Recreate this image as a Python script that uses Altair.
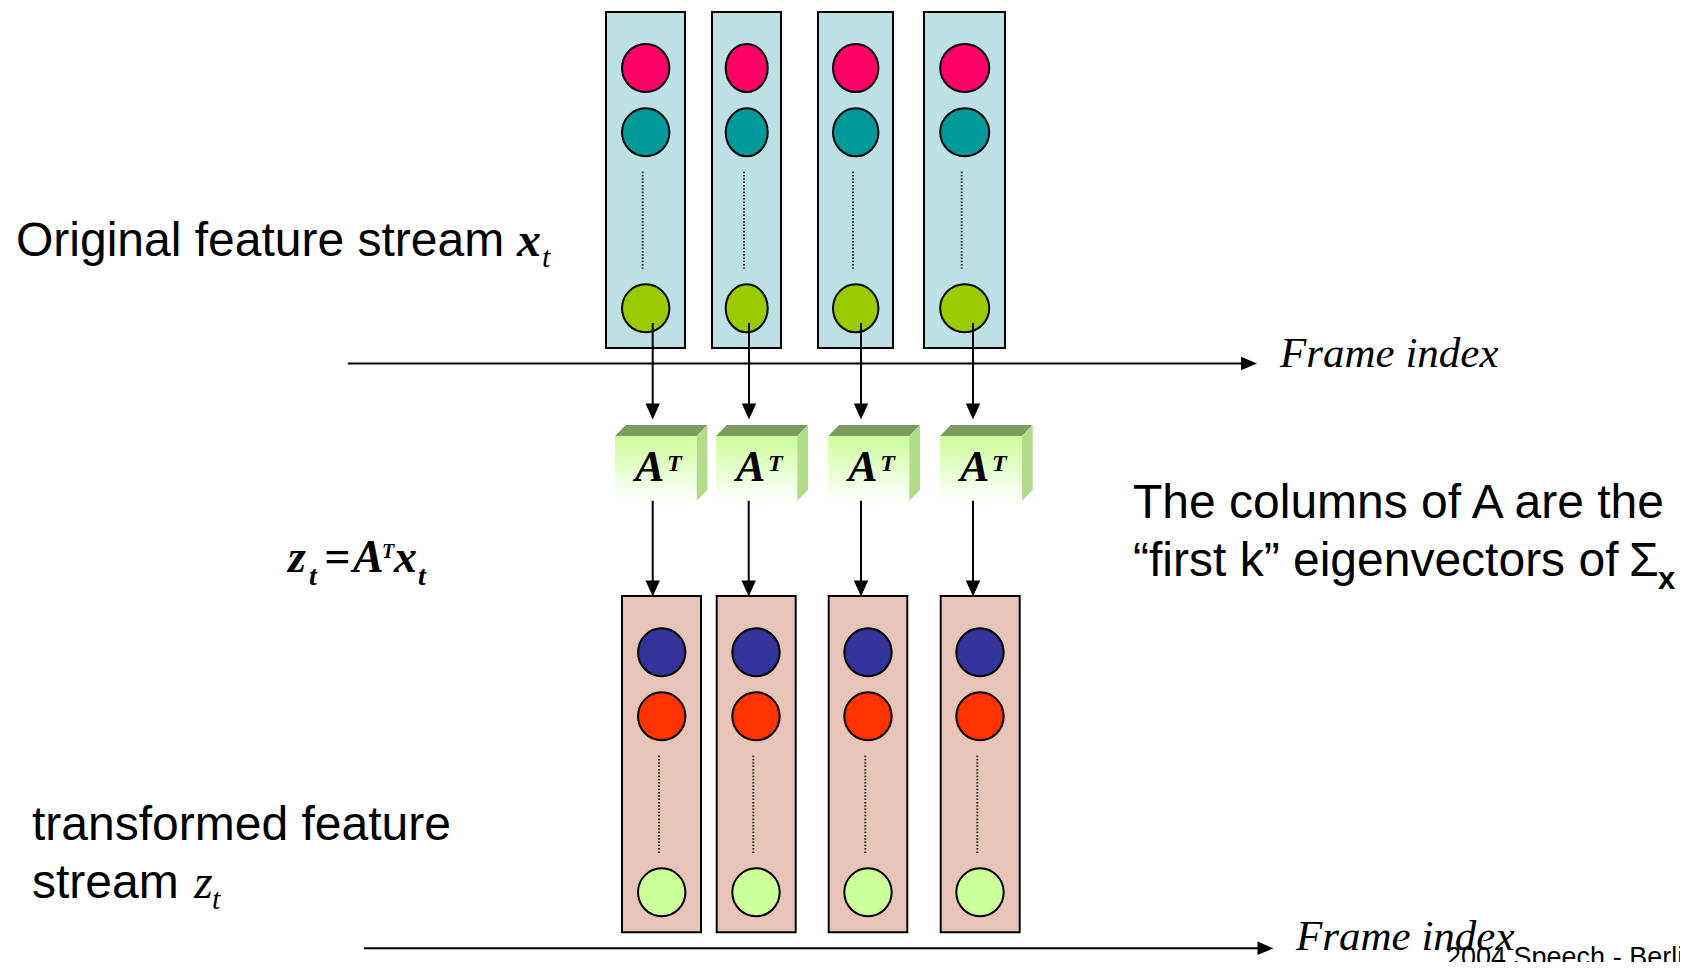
import altair as alt
import pandas as pd

# ---------------- canvas (page pixel coordinates) ----------------
W, H = 1672, 954
XS = alt.Scale(domain=[8, 8 + W], nice=False, zero=False)
YS = alt.Scale(domain=[8, 8 + H], nice=False, zero=False, reverse=True)

# ---------------- data ----------------
# input frames x_t
top_box_x0 = [606, 712, 818, 924]
top_box_x1 = [685, 781, 893, 1005]
top_box_y0, top_box_y1 = 12, 348
top_circle_cx = [645.7, 746.7, 855.7, 964.7]
top_circle_rx = [23.7, 21.0, 22.7, 24.5]
top_circle_cy = [68, 132.3, 308.3]
top_circle_colors = ["#FF0066", "#009999", "#99CC00"]
top_dot_x = [642.7, 744, 853, 961.7]
top_dot_y0, top_dot_y1 = 171.7, 268.7

# transformed frames z_t
bot_box_x0 = [622, 716.7, 828.7, 940.7]
bot_box_x1 = [701, 795.7, 907.3, 1019.7]
bot_box_y0, bot_box_y1 = 596, 932.3
bot_circle_cx = [661.7, 756, 868, 980]
bot_circle_rx = [23.7, 23.7, 23.7, 23.7]
bot_circle_cy = [652.3, 716.3, 892.3]
bot_circle_colors = ["#333399", "#FF3300", "#CCFF99"]
bot_dot_x = [659, 753.3, 865.3, 977.3]
bot_dot_y0, bot_dot_y1 = 755.7, 853.3

# A^T blocks
at_front_x0 = [615, 716, 828.3, 940]
at_front_x1 = [696.7, 797.3, 909.3, 1022]
at_top_y, at_front_top, at_front_bot = 425, 436, 500.7
at_depth_x = 10.7
at_side_bot_right = 490

# arrows
arrow1_x = [652.7, 749, 861, 973]
arrow1_y0, arrow1_tip = 323, 419
arrow2_x = [652.7, 748.7, 861, 973]
arrow2_y0, arrow2_tip = 499.3, 596
axis_top = dict(x0=347.7, tip=1257, y=363.5)
axis_bot = dict(x0=363.9, tip=1273.5, y=948.3)

CIRCLE_RY = 24.0


def X(f):
    return alt.X(f, type="quantitative", scale=XS, axis=None)


def Y(f):
    return alt.Y(f, type="quantitative", scale=YS, axis=None)


def ellipse_path(rx, ry):
    a = rx / ry
    return f"M {-a:.3f},0 A {a:.3f},1 0 1,0 {a:.3f},0 A {a:.3f},1 0 1,0 {-a:.3f},0 Z"


layers = []

# boxes
boxes = []
for x0, x1 in zip(top_box_x0, top_box_x1):
    boxes.append(dict(x=x0, x2=x1, y=top_box_y0, y2=top_box_y1, fill="#BDE0E4"))
for x0, x1 in zip(bot_box_x0, bot_box_x1):
    boxes.append(dict(x=x0, x2=x1, y=bot_box_y0, y2=bot_box_y1, fill="#E8C4B8"))
layers.append(
    alt.Chart(pd.DataFrame(boxes)).mark_rect(stroke="black", strokeWidth=2).encode(
        x=X("x"), x2="x2", y=Y("y"), y2="y2", fill=alt.Fill("fill:N", scale=None)
    )
)

# dotted lines
dots = [dict(x=x, y=top_dot_y0, y2=top_dot_y1) for x in top_dot_x]
dots += [dict(x=x, y=bot_dot_y0, y2=bot_dot_y1) for x in bot_dot_x]
layers.append(
    alt.Chart(pd.DataFrame(dots)).mark_rule(color="#222222", strokeWidth=2, strokeDash=[1.5, 1.8]).encode(
        x=X("x"), y=Y("y"), y2="y2"
    )
)

# circles
circ = []
for cx, rx in zip(top_circle_cx, top_circle_rx):
    for cy, col in zip(top_circle_cy, top_circle_colors):
        circ.append(dict(x=cx, y=cy, fill=col, shape=ellipse_path(rx, CIRCLE_RY), size=(2 * CIRCLE_RY) ** 2))
for cx, rx in zip(bot_circle_cx, bot_circle_rx):
    for cy, col in zip(bot_circle_cy, bot_circle_colors):
        circ.append(dict(x=cx, y=cy, fill=col, shape=ellipse_path(rx, CIRCLE_RY), size=(2 * CIRCLE_RY) ** 2))
layers.append(
    alt.Chart(pd.DataFrame(circ)).mark_point(filled=True, stroke="black", strokeWidth=2, opacity=1).encode(
        x=X("x"), y=Y("y"),
        fill=alt.Fill("fill:N", scale=None),
        shape=alt.Shape("shape:N", scale=None),
        size=alt.Size("size:Q", scale=None),
    )
)

# arrow shafts
shafts = [dict(x=x, x2=x, y=arrow1_y0, y2=arrow1_tip - 6) for x in arrow1_x]
shafts += [dict(x=x, x2=x, y=arrow2_y0, y2=arrow2_tip - 6) for x in arrow2_x]
shafts += [dict(x=axis_top["x0"], x2=axis_top["tip"] - 6, y=axis_top["y"], y2=axis_top["y"])]
shafts += [dict(x=axis_bot["x0"], x2=axis_bot["tip"] - 6, y=axis_bot["y"], y2=axis_bot["y"])]
layers.append(
    alt.Chart(pd.DataFrame(shafts)).mark_rule(color="black", strokeWidth=2).encode(
        x=X("x"), x2="x2", y=Y("y"), y2="y2"
    )
)

# arrow heads
DOWN = "M -0.9,-1 L 0.9,-1 L 0,1 Z"
RIGHT = "M -1,-0.85 L -1,0.85 L 1,0 Z"
heads = [dict(x=x, y=arrow1_tip - 7.5, shape=DOWN) for x in arrow1_x]
heads += [dict(x=x, y=arrow2_tip - 7.5, shape=DOWN) for x in arrow2_x]
heads += [dict(x=axis_top["tip"] - 8, y=axis_top["y"], shape=RIGHT)]
heads += [dict(x=axis_bot["tip"] - 8, y=axis_bot["y"], shape=RIGHT)]
layers.append(
    alt.Chart(pd.DataFrame(heads)).mark_point(filled=True, color="black", opacity=1, size=256, strokeWidth=0).encode(
        x=X("x"), y=Y("y"), shape=alt.Shape("shape:N", scale=None)
    )
)

# A^T blocks: front face (gradient), top face, side face
front = [dict(x=x0, x2=x1, y=at_front_top, y2=at_front_bot) for x0, x1 in zip(at_front_x0, at_front_x1)]
grad = alt.LinearGradient(
    gradient="linear",
    stops=[alt.GradientStop(color="#CCFF99", offset=0), alt.GradientStop(color="#FFFFFF", offset=1)],
    x1=0, x2=0, y1=0, y2=1,
)
layers.append(
    alt.Chart(pd.DataFrame(front)).mark_rect(fill=grad, strokeWidth=0).encode(
        x=X("x"), x2="x2", y=Y("y"), y2="y2"
    )
)
# faces drawn as symbol outlines anchored at the front face's top-left corner (unit symbol scale)
faces = []
for x0, x1 in zip(at_front_x0, at_front_x1):
    w = x1 - x0
    d = at_depth_x
    h = at_front_top - at_top_y
    top_path = f"M 0,0 L {d:.2f},{-h:.2f} L {w + d:.2f},{-h:.2f} L {w:.2f},0 Z"
    side_path = (f"M {w:.2f},0 L {w + d:.2f},{-h:.2f} L {w + d:.2f},{at_side_bot_right - at_front_top:.2f} "
                 f"L {w:.2f},{at_front_bot - at_front_top:.2f} Z")
    faces.append(dict(x=x0, y=at_front_top, shape=top_path, fill="#7D9B60"))
    faces.append(dict(x=x0, y=at_front_top, shape=side_path, fill="#B3DC8A"))
layers.append(
    alt.Chart(pd.DataFrame(faces)).mark_point(filled=True, opacity=1, size=4, strokeWidth=0).encode(
        x=X("x"), y=Y("y"),
        shape=alt.Shape("shape:N", scale=None),
        fill=alt.Fill("fill:N", scale=None),
    )
)


def text_layer(rows, **kw):
    df = pd.DataFrame(rows, columns=["x", "y", "text"])
    return alt.Chart(df).mark_text(align="left", baseline="alphabetic", color="black", **kw).encode(
        x=X("x"), y=Y("y"), text="text:N"
    )


SANS = "Liberation Sans, Arial, sans-serif"
SERIF = "Liberation Serif, Times New Roman, serif"

layers.append(text_layer([
    (16, 256, "Original feature stream"),
    (1133, 518, "The columns of A are the"),
    (1133, 576, "\u201cfirst k\u201d eigenvectors of"),
    (1629, 576, "\u03a3"),
    (32, 840, "transformed feature"),
    (32, 898, "stream"),
], font=SANS, fontSize=48))

layers.append(text_layer([(1658, 589, "x")], font=SANS, fontSize=31, fontWeight="bold"))
layers.append(text_layer([(1446, 966, "2004 Speech - Berlin")], font=SANS, fontSize=27))

layers.append(text_layer([
    (1280, 367, "Frame index"),
    (1296, 950, "Frame index"),
], font=SERIF, fontSize=43, fontStyle="italic"))

# math symbols
layers.append(text_layer([
    (517, 256, "x"),
], font=SERIF, fontSize=48, fontStyle="italic", fontWeight="bold"))
layers.append(text_layer([
    (194, 898, "z"),
], font=SERIF, fontSize=48, fontStyle="italic"))
layers.append(text_layer([
    (542, 267, "t"),
    (212, 909, "t"),
], font=SERIF, fontSize=30, fontStyle="italic"))

# formula z_t = A^T x_t
layers.append(text_layer([
    (288, 572, "z"),
    (324, 572, "="),
    (353, 572, "A"),
    (394, 572, "x"),
], font=SERIF, fontSize=46, fontStyle="italic", fontWeight="bold"))
layers.append(text_layer([
    (309, 585, "t"),
    (418, 585, "t"),
], font=SERIF, fontSize=28, fontStyle="italic", fontWeight="bold"))
layers.append(text_layer([
    (382, 558, "T"),
], font=SERIF, fontSize=20, fontStyle="italic", fontWeight="bold"))

# A^T labels in blocks
layers.append(text_layer([(x0 + 20, 481, "A") for x0 in at_front_x0],
                         font=SERIF, fontSize=44, fontStyle="italic", fontWeight="bold"))
layers.append(text_layer([(x0 + 52, 471, "T") for x0 in at_front_x0],
                         font=SERIF, fontSize=24, fontStyle="italic", fontWeight="bold"))

chart = alt.layer(*layers).properties(
    width=W, height=H,
    autosize=alt.AutoSizeParams(type="none"),
    padding=0,
    background="white",
).configure_view(stroke=None)

chart.save("out.html", embed_options={"renderer": "svg", "actions": False})
